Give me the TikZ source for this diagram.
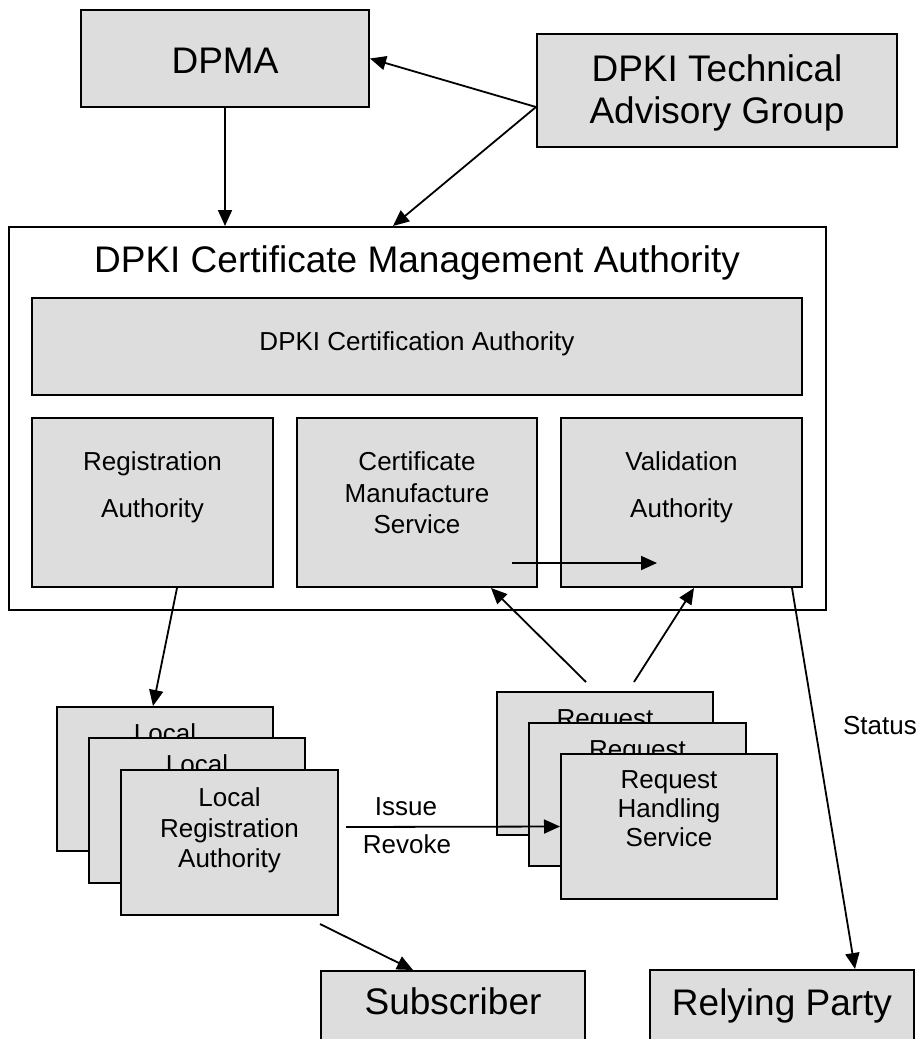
\documentclass[tikz,border=0pt]{standalone}
\usepackage{fontspec}
\setmainfont{Liberation Sans}
\usetikzlibrary{arrows.meta}
\definecolor{boxgray}{HTML}{DDDDDD}
\begin{document}
\begin{tikzpicture}[x=1pt,y=-1pt,
  box/.style={draw=black, line width=2pt, fill=boxgray, inner sep=0pt},
  wbox/.style={draw=black, line width=2pt, fill=white, inner sep=0pt},
  big/.style={font=\fontsize{37}{42}\selectfont, inner sep=0pt, anchor=base},
  mid/.style={font=\fontsize{26}{30}\selectfont, inner sep=0pt, anchor=base},
  conn/.style={line width=1.8pt, -{Triangle[length=16pt,width=14pt]}}]
\useasboundingbox (0,0) rectangle (918,1039);

% top boxes
\node[box, minimum width=288pt, minimum height=97pt] (dpma) at (225,58.5) {};
\node[big] (tdpma) at (225,73) {DPMA};
\node[box, minimum width=360pt, minimum height=113pt] (tag) at (717,90.5) {};
\node[big] (ttag1) at (717,81) {DPKI Technical};
\node[big] (ttag2) at (717,123) {Advisory Group};

% management authority
\node[wbox, minimum width=817pt, minimum height=383pt] (cma) at (417.5,418.5) {};
\node[big] (tcma) at (417,272) {DPKI Certificate Management Authority};
\node[box, minimum width=770pt, minimum height=97pt] (ca) at (417,346.5) {};
\node[mid] (tca) at (417,350) {DPKI Certification Authority};
\node[box, minimum width=241pt, minimum height=169pt] (ra) at (152.5,502.5) {};
\node[mid] (tra1) at (152.5,470) {Registration};
\node[mid] (tra2) at (152.5,517) {Authority};
\node[box, minimum width=240pt, minimum height=169pt] (cms) at (417,502.5) {};
\node[mid] (tcms1) at (417,470) {Certificate};
\node[mid] (tcms2) at (417,502) {Manufacture};
\node[mid] (tcms3) at (417,533) {Service};
\node[box, minimum width=241pt, minimum height=169pt] (va) at (681.5,502.5) {};
\node[mid] (tva1) at (681.5,470) {Validation};
\node[mid] (tva2) at (681.5,517) {Authority};

% local registration authorities
\node[box, minimum width=216pt, minimum height=144pt] (lra1) at (165,779) {};
\node[mid] (tlra1) at (165,742) {Local};
\node[box, minimum width=216pt, minimum height=145pt] (lra2) at (197,810.5) {};
\node[mid] (tlra2) at (197,773) {Local};
\node[box, minimum width=217pt, minimum height=145pt] (lra3) at (229.5,842.5) {};
\node[mid] (tlra3a) at (229.5,806) {Local};
\node[mid] (tlra3b) at (229.5,837) {Registration};
\node[mid] (tlra3c) at (229.5,867) {Authority};

% request handling services
\node[box, minimum width=216pt, minimum height=143pt] (rhs1) at (605,763.5) {};
\node[mid] (trhs1) at (605,727) {Request};
\node[box, minimum width=217pt, minimum height=143pt] (rhs2) at (637.5,794.5) {};
\node[mid] (trhs2) at (637.5,758) {Request};
\node[box, minimum width=216pt, minimum height=145pt] (rhs3) at (669,826.5) {};
\node[mid] (trhs3a) at (669,788) {Request};
\node[mid] (trhs3b) at (669,817) {Handling};
\node[mid] (trhs3c) at (669,846) {Service};

% bottom boxes
\node[box, minimum width=264pt, minimum height=88pt] (sub) at (453,1015) {};
\node[big] (tsub) at (453,1014) {Subscriber};
\node[box, minimum width=264pt, minimum height=89pt] (rp) at (782,1014.5) {};
\node[big] (trp) at (782,1015) {Relying Party};

% labels
\node[mid] (issue) at (406,815) {Issue};
\node[mid] (revoke) at (407,853) {Revoke};
\node[mid, anchor=base east] (status) at (917,734) {Status};

% connectors
\draw[conn] (dpma.south) -- (dpma.south |- cma.north);
\draw[conn] ([yshift=-16.5pt]tag.west) -- (dpma.east);
\draw[conn] ([yshift=-16.5pt]tag.west) -- ([xshift=-24.5pt]cma.north);
\draw[conn] ([xshift=95pt,yshift=-60.5pt]cms.center) -- ([xshift=-24.5pt,yshift=-60.5pt]va.center);
\draw[conn] ([xshift=24.5pt]ra.south) -- ([xshift=-12pt]lra1.north);
\draw[conn] ([xshift=-19pt,yshift=9pt]rhs1.north) -- ([xshift=74pt]cms.south);
\draw[conn] ([xshift=29pt,yshift=9pt]rhs1.north) -- ([xshift=12.5pt]va.south);
\draw[conn] ([xshift=110.5pt]va.south) -- ([xshift=73pt]rp.north);
\draw[conn] ([xshift=7pt,yshift=15.5pt]lra3.east) -- (rhs3.west);
\draw[conn] ([xshift=90.5pt,yshift=-8pt]lra3.south) -- ([xshift=-40pt]sub.north);
\end{tikzpicture}
\end{document}
